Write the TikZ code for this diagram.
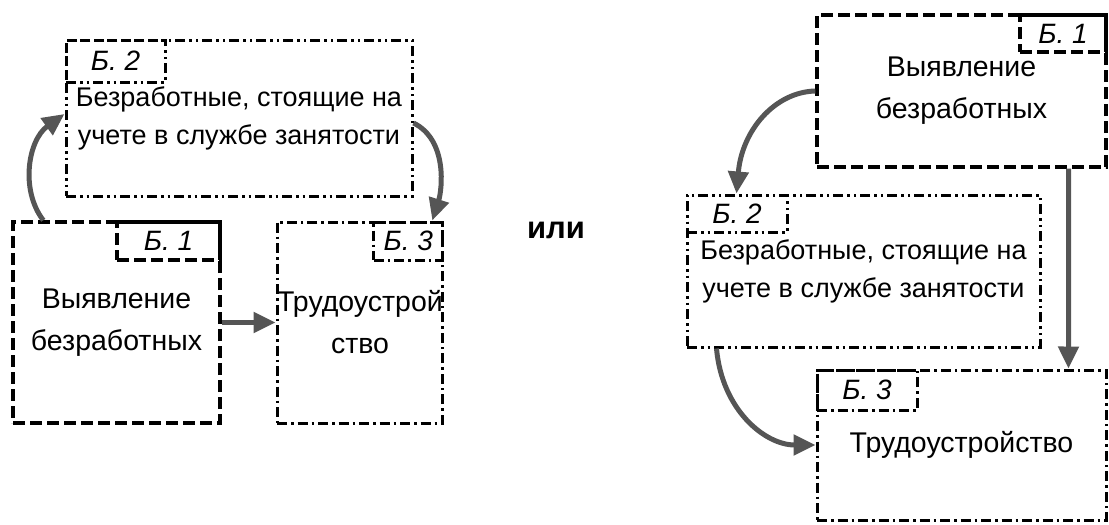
\documentclass[tikz,border=0pt]{standalone}
\usepackage{fontspec}
\setmainfont{Liberation Sans}
\usetikzlibrary{arrows.meta}
\definecolor{arrowgray}{HTML}{555555}
\tikzset{
  dashbox/.style={draw, line width=3.4pt, dash pattern=on 12pt off 5pt, inner sep=0pt},
  ddbox/.style={draw, line width=3pt, dash pattern=on 10pt off 4pt on 2.5pt off 4pt on 2.5pt off 4pt, inner sep=0pt},
  dbox/.style={draw, line width=3pt, dash pattern=on 10pt off 4pt on 2.5pt off 4pt, inner sep=0pt},
  flow/.style={draw=arrowgray, line width=5pt, -{Triangle[length=22pt,width=20pt]}},
  bigtxt/.style={font=\fontsize{28.5}{42}\selectfont, align=center},
  midtxt/.style={font=\fontsize{27}{38}\selectfont, align=center},
  tagtxt/.style={font=\fontsize{28}{28}\selectfont\itshape},
}
\begin{document}
\begin{tikzpicture}[x=1pt,y=-1pt]
\useasboundingbox (0,0) rectangle (1109,525);
% ---------- left variant ----------
\node[ddbox, minimum width=346pt, minimum height=156pt, midtxt] (LB2) at (239,118) {Безработные, стоящие на\\учете в службе занятости};
\node[ddbox, anchor=north west, minimum width=99pt, minimum height=42pt, tagtxt] (LT2) at (LB2.north west) {Б.~2};
\node[dashbox, minimum width=207pt, minimum height=201pt, bigtxt] (LB1) at (116.5,322.5) {Выявление\\безработных};
\node[dashbox, anchor=north east, minimum width=103pt, minimum height=38pt, tagtxt] (LT1) at (LB1.north east) {Б.~1};
\node[dbox, minimum width=154pt, minimum height=201pt, bigtxt] (LB3) at (360,322.5) {Трудоустрой\\ство};
\node[dbox, anchor=north east, minimum width=69pt, minimum height=38pt, tagtxt] (LT3) at (LB3.north east) {Б.~3};
\draw[flow] ([xshift=32pt]LB1.north west) .. controls (20,190) and (28,140) .. ([yshift=4pt]LB2.west);
\draw[flow] ([yshift=-5pt]LB2.east) .. controls (448,140) and (442,190) .. ([xshift=-12pt]LB3.north east);
\draw[flow] (LB1.east) -- (LB3.west);
% ---------- or ----------
\node[font=\fontsize{31}{31}\selectfont\bfseries] (or) at (556,230) {или};
% ---------- right variant ----------
\node[dashbox, minimum width=289pt, minimum height=152pt, bigtxt] (RB1) at (961.5,91) {Выявление\\безработных};
\node[dashbox, anchor=north east, minimum width=86pt, minimum height=37pt, tagtxt] (RT1) at (RB1.north east) {Б.~1};
\node[ddbox, minimum width=353pt, minimum height=152pt, midtxt] (RB2) at (863.5,271) {Безработные, стоящие на\\учете в службе занятости};
\node[ddbox, anchor=north west, minimum width=100pt, minimum height=37pt, tagtxt] (RT2) at (RB2.north west) {Б.~2};
\node[dbox, minimum width=289pt, minimum height=150pt, bigtxt] (RB3) at (961.5,445) {Трудоустройство};
\node[dbox, anchor=north west, minimum width=100pt, minimum height=40pt, tagtxt] (RT3) at (RB3.north west) {Б.~3};
\draw[flow] (RB1.west) .. controls (775,92) and (742,130) .. ([xshift=51pt]RB2.north west);
\draw[flow] ([xshift=-39pt]RB1.south east) -- ([xshift=-39pt]RB3.north east);
\draw[flow] ([xshift=31pt]RB2.south west) .. controls (722,410) and (765,445) .. (RB3.west);
\end{tikzpicture}
\end{document}
